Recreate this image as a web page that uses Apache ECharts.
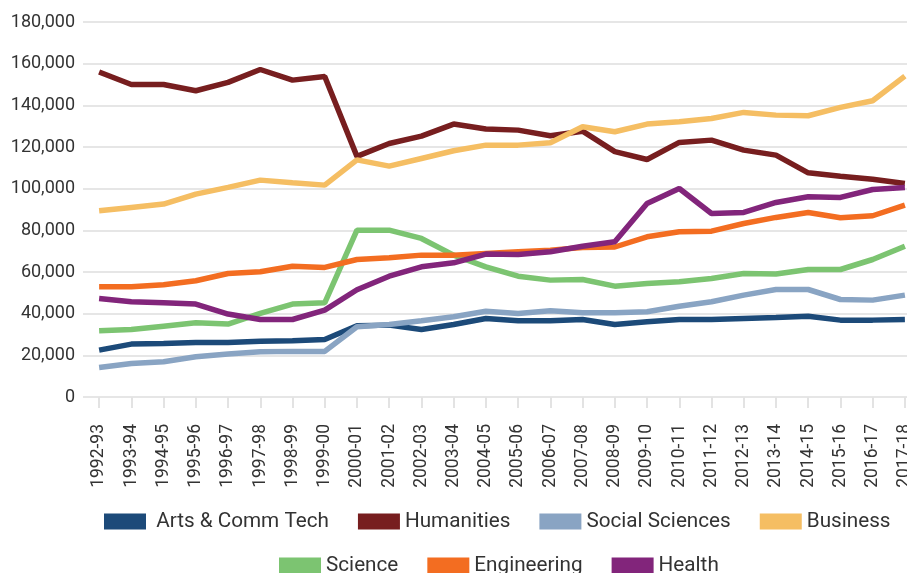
<!DOCTYPE html>
<html>
<head>
<meta charset="utf-8">
<script src="https://cdn.jsdelivr.net/npm/echarts@6/dist/echarts.min.js"></script>
<style>
  html, body { margin: 0; padding: 0; background: #fff; }
  #chart { width: 907px; height: 573px; }
</style>
</head>
<body>
<div id="chart"></div>
<script>
const years = ['1992-93', '1993-94', '1994-95', '1995-96', '1996-97', '1997-98', '1998-99', '1999-00',
  '2000-01', '2001-02', '2002-03', '2003-04', '2004-05', '2005-06', '2006-07', '2007-08', '2008-09',
  '2009-10', '2010-11', '2011-12', '2012-13', '2013-14', '2014-15', '2015-16', '2016-17', '2017-18']

const artsCommTech = [22500, 25400, 25700, 26200, 26200, 26800, 27000, 27600, 34200, 34500, 32400, 34800, 37700,
  36600, 36600, 37200, 34800, 36100, 37200, 37200, 37700, 38200, 38800, 36900, 36900, 37200]
const humanities = [156000, 150000, 150000, 147000, 151000, 157200, 152100, 153800, 115500, 121700, 125200, 131000,
  128600, 128100, 125400, 127600, 117800, 114000, 122200, 123300, 118500, 116100, 107600, 106000, 104500, 102500]
const socialSciences = [14200, 16100, 16900, 19300, 20600, 21700, 21900, 21900, 33700, 34800, 36600, 38500, 41200,
  40100, 41400, 40400, 40400, 40900, 43600, 45700, 48900, 51600, 51600, 46800, 46500, 48900]
const business = [89400, 91000, 92600, 97400, 100600, 104100, 102800, 101700, 113800, 110800, 114500, 118200,
  120900, 120900, 122000, 129700, 127300, 131000, 132100, 133700, 136600, 135300, 135000, 139000, 142200, 154000]
const science = [31800, 32400, 34000, 35600, 35000, 40100, 44600, 45200, 80100, 80100, 76100, 68100, 62500,
  58000, 56100, 56400, 53200, 54500, 55300, 56900, 59300, 59000, 61200, 61200, 66000, 72400]
const engineering = [52900, 52900, 53900, 55800, 59300, 60100, 62800, 62200, 66000, 66800, 68100, 68100, 68900,
  69700, 70500, 71800, 72000, 76900, 79300, 79600, 83300, 86200, 88600, 86000, 87000, 92100]
const health = [47300, 45700, 45200, 44600, 39800, 37200, 37200, 41700, 51500, 58000, 62500, 64400, 68600,
  68400, 69700, 72400, 74500, 92900, 100100, 88100, 88600, 93400, 96100, 95800, 99600, 100600]

const seriesNames = [' Arts & Comm Tech', 'Humanities', 'Social Sciences', 'Business', 'Science', 'Engineering', 'Health']
const seriesData = [artsCommTech, humanities, socialSciences, business, science, engineering, health]
const seriesColors = ['#1c4a79', '#771e1f', '#89a4c3', '#f5be63', '#7cc471', '#f36d21', '#82257b']

const chartInstance = echarts.init(document.getElementById('chart'))

const legendBase = {
  icon: 'rect',
  itemWidth: 42,
  itemHeight: 16,
  itemGap: 29,
  padding: 0,
  textStyle: { fontFamily: 'Roboto', fontSize: 20.7, color: '#333' }
}

const option = {
  animation: false,
  color: seriesColors,
  grid: {
    left: 83,
    right: -14,
    top: 22,
    bottom: 176,
    containLabel: false,
    outerBoundsMode: 'none'
  },
  legend: [
    Object.assign({}, legendBase, { data: seriesNames.slice(0, 4), left: 104, top: 511 }),
    Object.assign({}, legendBase, { data: seriesNames.slice(4), left: 279, top: 555 })
  ],
  xAxis: {
    type: 'category',
    data: years,
    boundaryGap: true,
    axisLine: { show: false },
    axisTick: {
      show: true,
      alignWithLabel: true,
      length: 11,
      lineStyle: { color: '#e3e3e3', width: 2 }
    },
    axisLabel: {
      rotate: 90,
      margin: 27,
      interval: 0,
      fontFamily: 'Roboto',
      fontSize: 17.5,
      color: '#333'
    }
  },
  yAxis: {
    type: 'value',
    min: 0,
    max: 180000,
    interval: 20000,
    axisLine: { show: false },
    axisTick: { show: false },
    axisLabel: {
      margin: 8,
      fontFamily: 'Roboto',
      fontSize: 18,
      color: '#333',
      formatter: v => v.toLocaleString('en-US')
    },
    splitLine: { lineStyle: { color: '#e6e6e6', width: 2 } }
  },
  series: seriesNames.map((name, i) => ({
    name: name,
    type: 'line',
    data: seriesData[i],
    symbol: 'none',
    lineStyle: { width: 5.5 },
    emphasis: { disabled: true }
  }))
}

chartInstance.setOption(option)
</script>
</body>
</html>
